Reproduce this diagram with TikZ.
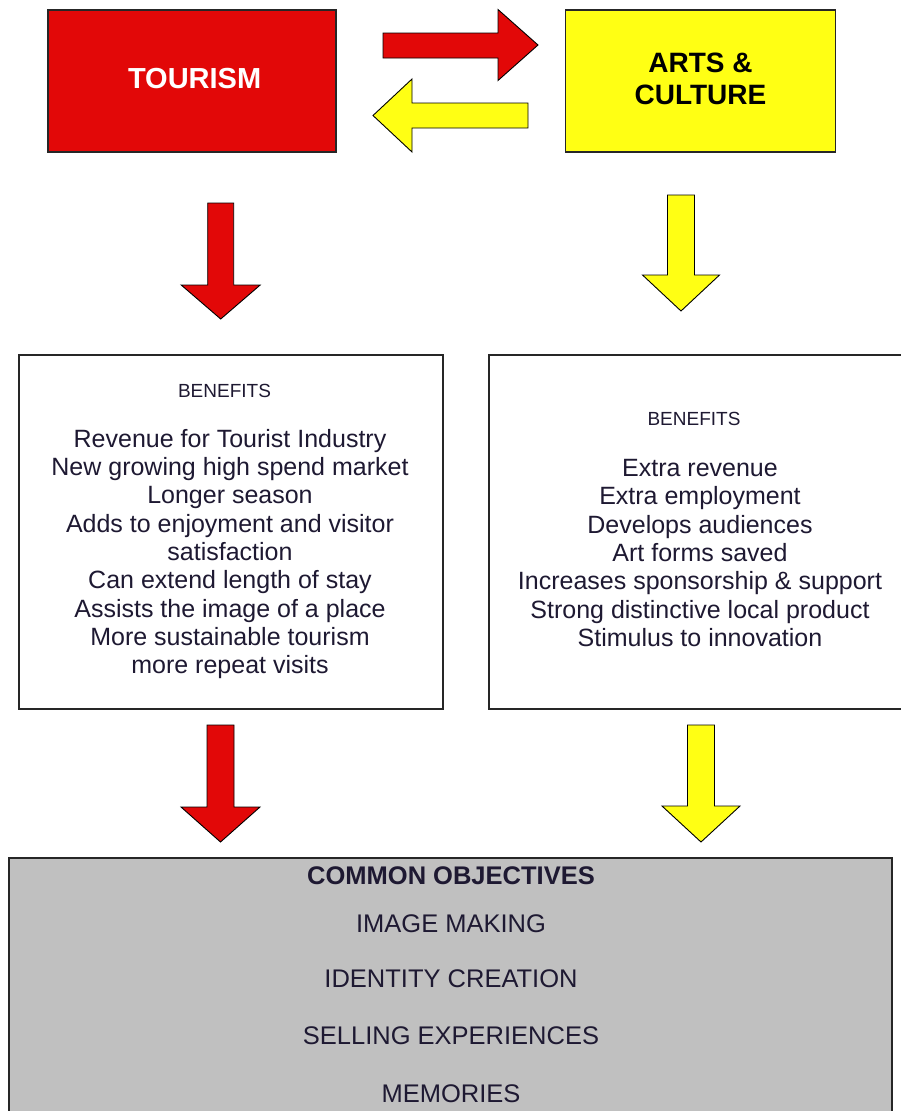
\documentclass[tikz,border=0pt]{standalone}
\usepackage{fontspec}
\setmainfont{Liberation Sans}
\definecolor{tred}{RGB}{226,8,8}
\definecolor{tyel}{RGB}{255,255,20}
\definecolor{tgray}{RGB}{192,192,192}
\definecolor{ink}{RGB}{30,25,50}
\newcommand{\downblock}[7]{%
  \draw[blk,fill=#1] (#2-#3,#4) -- (#2-#3,#5) -- (#2-#6,#5) -- (#2,#7)
    -- (#2+#6,#5) -- (#2+#3,#5) -- (#2+#3,#4) -- cycle;}
\begin{document}
\begin{tikzpicture}[x=1pt,y=-1pt,
  box/.style={draw=black!85,line width=1.6pt,inner sep=0,outer sep=0},
  blk/.style={draw=black,line width=0.9pt,line join=miter},
  txt/.style={text=ink,inner sep=0,align=center},
  bodyfont/.style={font=\fontsize{25}{28.3}\selectfont},
  headfont/.style={font=\fontsize{19}{22}\selectfont},
  objfont/.style={font=\fontsize{25.5}{30}\selectfont},
]
\useasboundingbox (0,0) rectangle (900,1111);
\fill[white] (0,0) rectangle (900,1111);

% boxes
\node[box,fill=tred,minimum width=288pt,minimum height=142pt] (tour) at (192,81) {};
\node[box,fill=tyel,minimum width=270pt,minimum height=142pt] (arts) at (700.3,81) {};
\node[box,fill=white,minimum width=424pt,minimum height=354pt] (lben) at (231,532) {};
\node[box,fill=white,minimum width=421pt,minimum height=354pt] (rben) at (699.5,532) {};
\node[box,fill=tgray,minimum width=883pt,minimum height=267pt] (common) at (450.5,991.5) {};

% horizontal block arrows
\draw[blk,fill=tred] (383,33) -- (498,33) -- (498,9.5) -- (538,45) -- (498,80.5)
  -- (498,58) -- (383,58) -- cycle;
\draw[blk,fill=tyel] (528,103) -- (412,103) -- (412,79) -- (373,115.5) -- (412,152)
  -- (412,128) -- (528,128) -- cycle;

% vertical block arrows
\downblock{tred}{220.7}{13}{203}{285}{39.5}{319}
\downblock{tyel}{681}{13.5}{195}{275}{38.5}{311}
\downblock{tred}{220.5}{13.5}{725}{807}{39.5}{842}
\downblock{tyel}{701}{13.5}{725}{806}{39}{842}

% texts
\node[txt,text=white,font=\bfseries\fontsize{29}{33}\selectfont] (ttour) at (194.6,78.3) {TOURISM};
\node[txt,text=black,font=\bfseries\fontsize{28}{32.5}\selectfont] (tarts) at (700.5,78.7) {ARTS \&\\CULTURE};

\node[txt,headfont] (lhead) at (224.5,391) {BENEFITS};
\node[txt,bodyfont] (lbody) at (230,554) {Revenue for Tourist Industry\\New growing high spend market\\Longer season\\Adds to enjoyment and visitor\\satisfaction\\Can extend length of stay\\Assists the image of a place\\More sustainable tourism\\more repeat visits};

\node[txt,headfont] (rhead) at (694,419) {BENEFITS};
\node[txt,bodyfont] (rbody) at (700,553) {Extra revenue\\Extra employment\\Develops audiences\\Art forms saved\\Increases sponsorship \& support\\Strong distinctive local product\\Stimulus to innovation};

\node[txt,objfont,font=\bfseries\fontsize{25.5}{30}\selectfont] (obj) at (451,876) {COMMON OBJECTIVES};
\node[txt,objfont] (o1) at (451,924) {IMAGE MAKING};
\node[txt,objfont] (o2) at (451,979) {IDENTITY CREATION};
\node[txt,objfont] (o3) at (451,1036) {SELLING EXPERIENCES};
\node[txt,objfont] (o4) at (451,1094) {MEMORIES};
\end{tikzpicture}
\end{document}
